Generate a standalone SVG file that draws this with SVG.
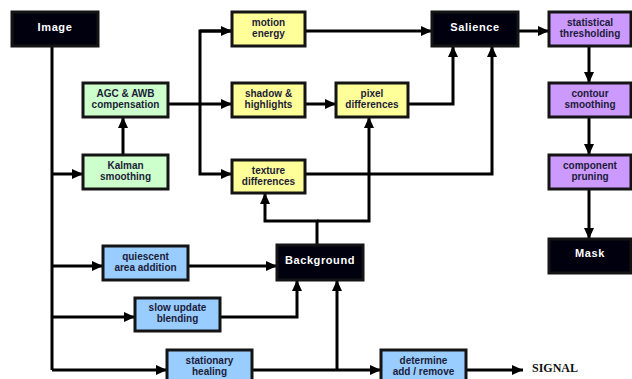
<svg xmlns="http://www.w3.org/2000/svg" width="632" height="379" viewBox="0 0 632 379">
<defs>
<style>
.b{stroke:#141414;stroke-width:3}
.k{fill:#00000f}
.y{fill:#ffff99}
.g{fill:#ccffcc}
.p{fill:#cc99ff}
.u{fill:#99ccff}
.t{font-family:"Liberation Sans",Arial,sans-serif;font-weight:bold;font-size:10px;fill:#1c1c38;text-anchor:middle}
.w{font-family:"Liberation Sans",Arial,sans-serif;font-weight:bold;font-size:11px;fill:#ffffff;text-anchor:middle;letter-spacing:0.6px}
.c{fill:none;stroke:#000;stroke-width:3}
</style>
<marker id="a" markerWidth="11" markerHeight="10" refX="11" refY="5" orient="auto" markerUnits="userSpaceOnUse"><path d="M0,0 L11,5 L0,10 z" fill="#000"/></marker>
</defs>
<rect width="632" height="379" fill="#ffffff"/>
<g id="connectors">
<path class="c" d="M52,46 V370"/>
<path class="c" d="M52,174 H83" marker-end="url(#a)"/>
<path class="c" d="M52,266 H103" marker-end="url(#a)"/>
<path class="c" d="M52,317 H135" marker-end="url(#a)"/>
<path class="c" d="M52,370 H167" marker-end="url(#a)"/>
<path class="c" d="M123,155 V117" marker-end="url(#a)"/>
<path class="c" d="M168,104 H232" marker-end="url(#a)"/>
<path class="c" d="M232,31 H200 V174 H232" marker-end="url(#a)"/>
<path class="c" d="M200,31 H232" marker-end="url(#a)"/>
<path class="c" d="M305,31 H432" marker-end="url(#a)"/>
<path class="c" d="M305,104 H336" marker-end="url(#a)"/>
<path class="c" d="M408,104 H453 V46" marker-end="url(#a)"/>
<path class="c" d="M305,174 H492 V46" marker-end="url(#a)"/>
<path class="c" d="M518,31 H549" marker-end="url(#a)"/>
<path class="c" d="M589,46 V83" marker-end="url(#a)"/>
<path class="c" d="M589,117 V155" marker-end="url(#a)"/>
<path class="c" d="M589,189 V239" marker-end="url(#a)"/>
<path class="c" d="M317,245 V221 H265 V193" marker-end="url(#a)"/>
<path class="c" d="M317,221 H369 V117" marker-end="url(#a)"/>
<path class="c" d="M188,266 H277" marker-end="url(#a)"/>
<path class="c" d="M220,317 H297 V280" marker-end="url(#a)"/>
<path class="c" d="M252,370 H381" marker-end="url(#a)"/>
<path class="c" d="M337,370 V280" marker-end="url(#a)"/>
<path class="c" d="M466,370 H523" marker-end="url(#a)"/>
</g>
<g id="image"><rect class="b k" x="12" y="12" width="86" height="34"/><text class="w" x="55" y="31">Image</text></g>
<g id="motion"><rect class="b y" x="232" y="12" width="73" height="34"/><text class="t" x="268.5" y="26">motion</text><text class="t" x="268.5" y="37">energy</text></g>
<g id="salience"><rect class="b k" x="432" y="12" width="86" height="34"/><text class="w" x="475" y="31">Salience</text></g>
<g id="stat"><rect class="b p" x="549" y="12" width="82" height="34"/><text class="t" x="590" y="26">statistical</text><text class="t" x="590" y="37">thresholding</text></g>
<g id="agc"><rect class="b g" x="83" y="83" width="85" height="34"/><text class="t" x="125.5" y="97">AGC &amp; AWB</text><text class="t" x="125.5" y="108">compensation</text></g>
<g id="shadow"><rect class="b y" x="232" y="83" width="73" height="34"/><text class="t" x="268.5" y="97">shadow &amp;</text><text class="t" x="268.5" y="108">highlights</text></g>
<g id="pixel"><rect class="b y" x="336" y="83" width="72" height="34"/><text class="t" x="372" y="97">pixel</text><text class="t" x="372" y="108">differences</text></g>
<g id="contour"><rect class="b p" x="549" y="83" width="82" height="34"/><text class="t" x="590" y="97">contour</text><text class="t" x="590" y="108">smoothing</text></g>
<g id="kalman"><rect class="b g" x="83" y="155" width="85" height="34"/><text class="t" x="125.5" y="169">Kalman</text><text class="t" x="125.5" y="180">smoothing</text></g>
<g id="texture"><rect class="b y" x="232" y="160" width="73" height="33"/><text class="t" x="268.5" y="174">texture</text><text class="t" x="268.5" y="185">differences</text></g>
<g id="pruning"><rect class="b p" x="549" y="155" width="82" height="34"/><text class="t" x="590" y="169">component</text><text class="t" x="590" y="180">pruning</text></g>
<g id="background"><rect class="b k" x="277" y="245" width="86" height="35"/><text class="w" x="320" y="264">Background</text></g>
<g id="mask"><rect class="b k" x="549" y="239" width="82" height="34"/><text class="w" x="590" y="257">Mask</text></g>
<g id="quiescent"><rect class="b u" x="103" y="246" width="85" height="34"/><text class="t" x="145.5" y="260">quiescent</text><text class="t" x="145.5" y="271">area addition</text></g>
<g id="slow"><rect class="b u" x="135" y="298" width="85" height="33"/><text class="t" x="177.5" y="311">slow update</text><text class="t" x="177.5" y="322">blending</text></g>
<g id="stationary"><rect class="b u" x="167" y="350" width="85" height="34"/><text class="t" x="209.5" y="364">stationary</text><text class="t" x="209.5" y="375">healing</text></g>
<g id="determine"><rect class="b u" x="381" y="350" width="85" height="34"/><text class="t" x="423.5" y="364">determine</text><text class="t" x="423.5" y="375">add / remove</text></g>
<g id="signal"><text x="532" y="372" font-family="'Liberation Serif','Times New Roman',serif" font-weight="bold" font-size="12" fill="#111">SIGNAL</text></g>
</svg>
